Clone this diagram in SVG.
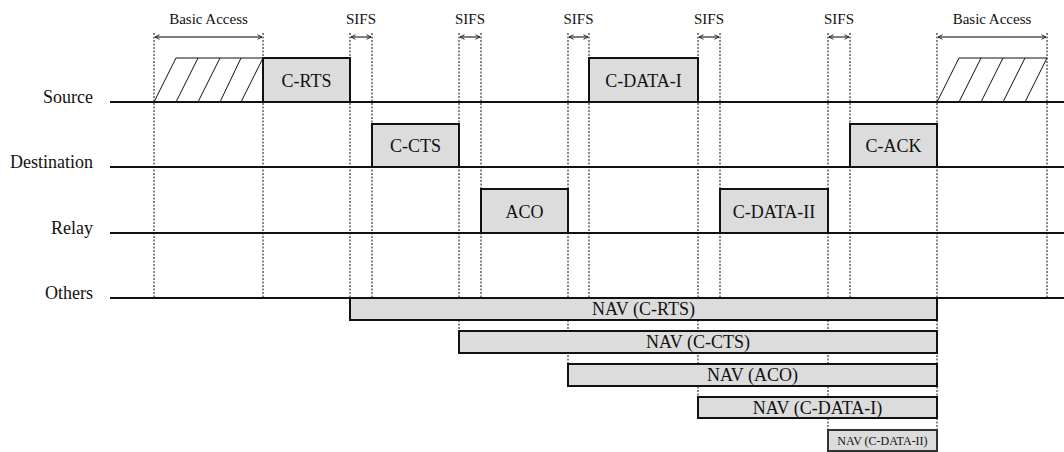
<svg xmlns="http://www.w3.org/2000/svg" width="1064" height="452" viewBox="0 0 1064 452">
  <style>
    .lbl { font-family: "Liberation Serif", "Times New Roman", serif; fill: #111; }
    .axis { font-size: 18px; text-anchor: end; }
    .top { font-size: 15px; text-anchor: middle; }
    .pkt { font-size: 18px; text-anchor: middle; }
    .nav { font-size: 18px; text-anchor: middle; }
    .nav-sm { font-size: 12px; text-anchor: middle; }
    .line { stroke: #111; stroke-width: 2; fill: none; }
    .guide { stroke: #111; stroke-width: 1; stroke-dasharray: 2 1.5; fill: none; }
    .box { fill: #dcdcdc; stroke: #111; stroke-width: 2; }
    .hatch { stroke: #111; stroke-width: 1; fill: none; }
    .span { stroke: #555; stroke-width: 1.5; fill: none; marker-start: url(#head); marker-end: url(#head); }
  </style>
  <defs>
    <marker id="head" viewBox="0 0 8 8" refX="7" refY="4" markerWidth="6" markerHeight="6" orient="auto-start-reverse" markerUnits="userSpaceOnUse">
      <path d="M1,1 L7,4 L1,7" fill="none" stroke="#222" stroke-width="1.3"/>
    </marker>
  </defs>

  <rect width="1064" height="452" fill="#fff"/>

  <!-- vertical timing guides -->
  <g id="guides">
    <line class="guide" x1="154" y1="33" x2="154" y2="298"/>
    <line class="guide" x1="263" y1="33" x2="263" y2="298"/>
    <line class="guide" x1="350" y1="33" x2="350" y2="298"/>
    <line class="guide" x1="372" y1="33" x2="372" y2="298"/>
    <line class="guide" x1="459" y1="33" x2="459" y2="331"/>
    <line class="guide" x1="481" y1="33" x2="481" y2="298"/>
    <line class="guide" x1="568" y1="33" x2="568" y2="364"/>
    <line class="guide" x1="589" y1="33" x2="589" y2="298"/>
    <line class="guide" x1="698" y1="33" x2="698" y2="397"/>
    <line class="guide" x1="720" y1="33" x2="720" y2="298"/>
    <line class="guide" x1="828" y1="33" x2="828" y2="430"/>
    <line class="guide" x1="850" y1="33" x2="850" y2="298"/>
    <line class="guide" x1="937" y1="33" x2="937" y2="430"/>
    <line class="guide" x1="1047" y1="33" x2="1047" y2="298"/>
  </g>

  <!-- interval spans and their labels -->
  <g id="spans">
    <line class="span" x1="155" y1="37" x2="262" y2="37"/>
    <line class="span" x1="351" y1="37" x2="371" y2="37"/>
    <line class="span" x1="460" y1="37" x2="480" y2="37"/>
    <line class="span" x1="569" y1="37" x2="588" y2="37"/>
    <line class="span" x1="699" y1="37" x2="719" y2="37"/>
    <line class="span" x1="829" y1="37" x2="849" y2="37"/>
    <line class="span" x1="938" y1="37" x2="1046" y2="37"/>
    <text class="lbl top" x="208.5" y="24">Basic Access</text>
    <text class="lbl top" x="361" y="24">SIFS</text>
    <text class="lbl top" x="470" y="24">SIFS</text>
    <text class="lbl top" x="578.5" y="24">SIFS</text>
    <text class="lbl top" x="709" y="24">SIFS</text>
    <text class="lbl top" x="839" y="24">SIFS</text>
    <text class="lbl top" x="992" y="24">Basic Access</text>
  </g>

  <!-- station timelines -->
  <g id="timelines">
    <line class="line" x1="110" y1="102" x2="1064" y2="102"/>
    <line class="line" x1="110" y1="167" x2="1064" y2="167"/>
    <line class="line" x1="110" y1="233" x2="1064" y2="233"/>
    <line class="line" x1="110" y1="298" x2="1064" y2="298"/>
    <text class="lbl axis" x="93" y="103">Source</text>
    <text class="lbl axis" x="93" y="168">Destination</text>
    <text class="lbl axis" x="93" y="234">Relay</text>
    <text class="lbl axis" x="93" y="299">Others</text>
  </g>

  <!-- contention (backoff) periods -->
  <g id="backoff-1">
    <path class="hatch" d="M154,102 L176,58 L263,58"/>
    <path class="hatch" d="M176,102 L198,58 M198,102 L220,58 M220,102 L241,58 M241,102 L263,58"/>
  </g>
  <g id="backoff-2">
    <path class="hatch" d="M937,102 L959,58 L1047,58"/>
    <path class="hatch" d="M959,102 L981,58 M981,102 L1003,58 M1003,102 L1025,58 M1025,102 L1047,58"/>
  </g>

  <!-- frames -->
  <g id="c-rts">
    <rect class="box" x="263" y="58" width="87" height="44"/>
    <text class="lbl pkt" x="306.5" y="87">C-RTS</text>
  </g>
  <g id="c-cts">
    <rect class="box" x="372" y="124" width="87" height="43"/>
    <text class="lbl pkt" x="415.5" y="152">C-CTS</text>
  </g>
  <g id="aco">
    <rect class="box" x="481" y="189" width="87" height="44"/>
    <text class="lbl pkt" x="524.5" y="218">ACO</text>
  </g>
  <g id="c-data-i">
    <rect class="box" x="589" y="58" width="109" height="44"/>
    <text class="lbl pkt" x="643.5" y="87">C-DATA-I</text>
  </g>
  <g id="c-data-ii">
    <rect class="box" x="720" y="189" width="108" height="44"/>
    <text class="lbl pkt" x="774" y="218">C-DATA-II</text>
  </g>
  <g id="c-ack">
    <rect class="box" x="850" y="124" width="87" height="43"/>
    <text class="lbl pkt" x="893.5" y="152">C-ACK</text>
  </g>

  <!-- network allocation vectors -->
  <g id="nav-c-rts">
    <rect class="box" x="350" y="298" width="587" height="22"/>
    <text class="lbl nav" x="643.5" y="315">NAV (C-RTS)</text>
  </g>
  <g id="nav-c-cts">
    <rect class="box" x="459" y="331" width="478" height="22"/>
    <text class="lbl nav" x="698" y="348">NAV (C-CTS)</text>
  </g>
  <g id="nav-aco">
    <rect class="box" x="568" y="364" width="369" height="22"/>
    <text class="lbl nav" x="752.5" y="381">NAV (ACO)</text>
  </g>
  <g id="nav-c-data-i">
    <rect class="box" x="698" y="397" width="239" height="21"/>
    <text class="lbl nav" x="817.5" y="414">NAV (C-DATA-I)</text>
  </g>
  <g id="nav-c-data-ii">
    <rect class="box" x="828" y="430" width="109" height="21" style="stroke:#333"/>
    <text class="lbl nav-sm" x="882.5" y="444.5">NAV (C-DATA-II)</text>
  </g>
</svg>
